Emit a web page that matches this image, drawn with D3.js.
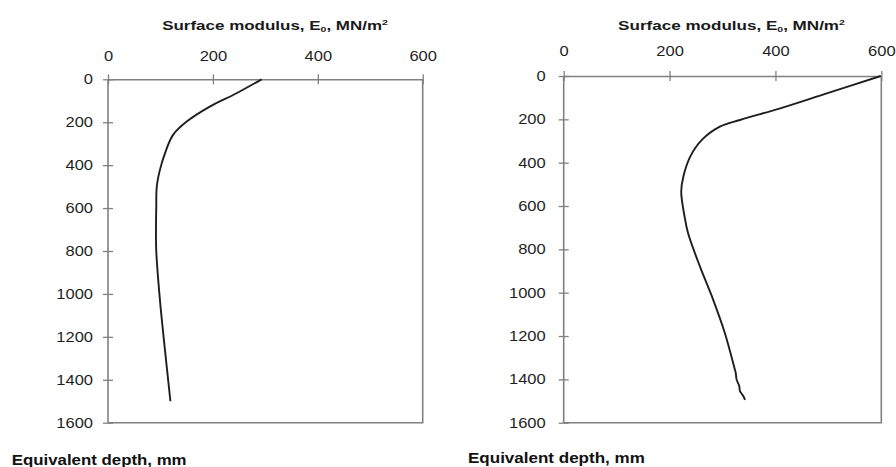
<!DOCTYPE html>
<html>
<head>
<meta charset="utf-8">
<script src="https://cdn.jsdelivr.net/npm/d3@7/dist/d3.min.js"></script>
<style>
  html, body { margin: 0; padding: 0; background: #fff; }
  svg { display: block; }
</style>
</head>
<body>
<svg id="chart" width="896" height="467"></svg>
<script>
// Surface modulus profiles versus equivalent depth (two pavement sections)
const modulusTicks = [0, 200, 400, 600];
const depthTicks = [0, 200, 400, 600, 800, 1000, 1200, 1400, 1600];

// Section A
const depthA   = [0, 65, 127, 197, 259, 345, 422, 500, 600, 700, 800, 1028, 1261, 1500];
const modulusA = [293, 245, 194, 150, 124, 108.6, 99, 93, 92, 91.5, 92, 99, 108.6, 119];

// Section B
const depthB   = [0, 80, 149, 203, 234, 295, 372, 465, 534, 657, 726, 880, 1034, 1188, 1357, 1370, 1400, 1431, 1454, 1477, 1495];
const modulusB = [599, 497, 409, 333, 295, 261, 239, 226, 222, 229, 235, 257.5, 282.6, 304.7, 323.6, 325, 326.6, 331.6, 333, 339.3, 342.5];

const titleText = ["Surface modulus, E", "0", ", MN/m", "2"];
const depthLabel = "Equivalent depth, mm";

const svg = d3.select("#chart");

// stretch a text element horizontally around its anchor point
function stretchText(sel, sx) {
  sel.each(function () {
    const t = d3.select(this);
    const x = +t.attr("x") || 0, y = +t.attr("y") || 0;
    t.attr("x", 0).attr("y", 0).attr("transform", `translate(${x},${y}) scale(${sx},1)`);
  });
}

// fit a text element to a given width
function fitWidth(t, w) {
  const cur = t.node().getComputedTextLength();
  const x = +t.attr("x") || 0, y = +t.attr("y") || 0;
  t.attr("x", 0).attr("y", 0).attr("transform", `translate(${x},${y}) scale(${w / cur},1)`);
}

function drawPanel(cfg, depth, modulus) {
  const x = d3.scaleLinear().domain([0, 600]).range([cfg.x0, cfg.x1]);
  const y = d3.scaleLinear().domain([0, 1600]).range([cfg.y0, cfg.y1]);
  const g = svg.append("g");

  // plot frame (right and bottom edges)
  g.append("path")
    .attr("d", `M${x(600)},${y(0)}V${y(1600)}H${x(0)}`)
    .attr("fill", "none").attr("stroke", "#808080").attr("stroke-width", 1.6);

  const axisStyle = (sel) => {
    sel.select(".domain").attr("stroke", "#808080").attr("stroke-width", 1.6);
    sel.selectAll(".tick line").attr("stroke", "#808080").attr("stroke-width", 1.3);
    sel.selectAll(".tick text").attr("fill", "#1f1f1f")
      .style("font-family", "'Liberation Sans', Arial, sans-serif").style("font-size", "14px");
  };

  const fmt = d3.format("d");

  const xAxis = g.append("g").attr("transform", `translate(0,${y(0)})`)
    .call(d3.axisTop(x).tickValues(modulusTicks).tickFormat(fmt).tickSizeOuter(0).tickSizeInner(5).tickPadding(cfg.xPad))
    .call(axisStyle);
  xAxis.selectAll(".tick line").attr("y1", 5).attr("y2", -5);
  stretchText(xAxis.selectAll(".tick text"), 1.18);

  const yAxis = g.append("g").attr("transform", `translate(${x(0)},0)`)
    .call(d3.axisLeft(y).tickValues(depthTicks).tickFormat(fmt).tickSizeOuter(0).tickSizeInner(5).tickPadding(cfg.yPad))
    .call(axisStyle);
  yAxis.selectAll(".tick line").attr("x1", -5).attr("x2", 5);
  yAxis.selectAll(".domain").attr("d", `M0,${y(0)}V${y(1600)}`);
  stretchText(yAxis.selectAll(".tick text"), 1.18);

  // profile line
  const pts = depth.map((d, i) => [modulus[i], d]);
  g.append("path")
    .datum(pts)
    .attr("fill", "none").attr("stroke", "#1e1e1e").attr("stroke-width", 1.9)
    .attr("stroke-linejoin", "round")
    .attr("d", d3.line().x(d => x(d[0])).y(d => y(d[1])).curve(d3.curveCatmullRom.alpha(0.5)));

  // axis title
  const title = g.append("text")
    .attr("x", cfg.titleX).attr("y", cfg.titleY)
    .attr("text-anchor", "middle").attr("fill", "#1a1a1a")
    .style("font-family", "'Liberation Sans', Arial, sans-serif")
    .style("font-weight", "bold").style("font-size", "13px");
  title.append("tspan").text(titleText[0]);
  title.append("tspan").attr("dy", 2).style("font-size", "8px").text(titleText[1]);
  title.append("tspan").attr("dy", -2).text(titleText[2]);
  title.append("tspan").attr("dy", -5).style("font-size", "8px").text(titleText[3]);
  fitWidth(title, cfg.titleW);

  const dl = g.append("text")
    .attr("x", cfg.depthX).attr("y", cfg.depthY)
    .attr("fill", "#111")
    .style("font-family", "'Liberation Sans', Arial, sans-serif")
    .style("font-weight", "bold").style("font-size", "15px")
    .text(depthLabel);
  fitWidth(dl, cfg.depthW);
}

drawPanel({ x0: 108, x1: 422.7, y0: 79.3, y1: 422.7, xPad: 13, yPad: 10,
            titleX: 275, titleY: 30, titleW: 226,
            depthX: 11.7, depthY: 465, depthW: 175 }, depthA, modulusA);

drawPanel({ x0: 563.7, x1: 881.3, y0: 76, y1: 422.7, xPad: 15, yPad: 13,
            titleX: 731.5, titleY: 30, titleW: 227,
            depthX: 468, depthY: 463, depthW: 177 }, depthB, modulusB);
</script>
</body>
</html>
